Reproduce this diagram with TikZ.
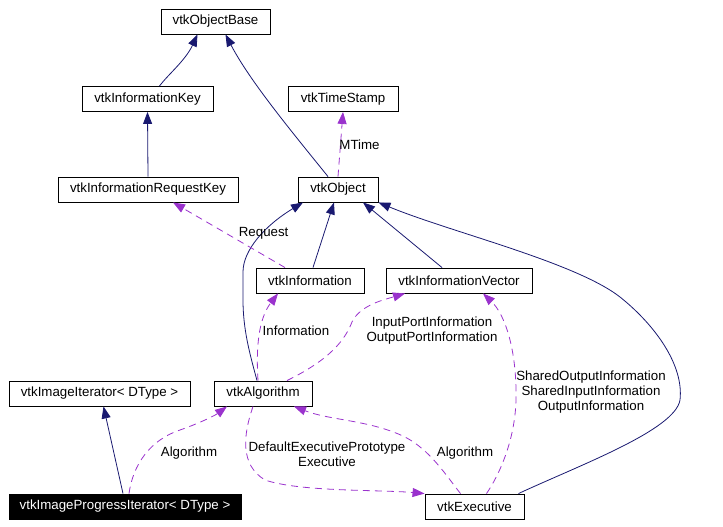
\documentclass[tikz,border=0pt]{standalone}
\usepackage{fontspec}
\setmainfont{Liberation Sans}
\usetikzlibrary{arrows.meta}
\usetikzlibrary{positioning}
\definecolor{inhblue}{HTML}{191970}
\definecolor{usepurple}{HTML}{9A32CD}

\begin{document}
\begin{tikzpicture}[x=1pt, y=-1pt,
  cls/.style={draw, rectangle, line width=0.9pt, minimum height=25, inner sep=0pt, font=\fontsize{13.3}{15}\selectfont},
  inh/.style={draw=inhblue, line width=0.8pt, -{Triangle[length=12pt,width=9pt]}},
  use/.style={draw=usepurple, line width=0.8pt, dash pattern=on 7pt off 5pt, -{Triangle[length=12pt,width=9pt]}},
  lbl/.style={align=center, inner sep=0pt, font=\fontsize{13.3}{15}\selectfont}]
  \path[use as bounding box] (0, 0) rectangle (723, 527);

  % classes
  \node[cls, minimum width=109] (base)    at (215.5, 21.5)  {vtkObjectBase};
  \node[cls, minimum width=131] (key)     at (147.5, 99)    {vtkInformationKey};
  \node[cls, minimum width=110] (stamp)   at (343, 99)      {vtkTimeStamp};
  \node[cls, minimum width=180] (reqkey)  at (148, 189.5)   {vtkInformationRequestKey};
  \node[cls, minimum width=80]  (obj)     at (338, 189.5)   {vtkObject};
  \node[cls, minimum width=108] (info)    at (310, 280.5)   {vtkInformation};
  \node[cls, minimum width=146] (infovec) at (459, 280.5)   {vtkInformationVector};
  \node[cls, minimum width=181] (imgit)   at (99.5, 393.5)  {vtkImageIterator< DType >};
  \node[cls, minimum width=98]  (algo)    at (263, 393.5)   {vtkAlgorithm};
  \node[cls, minimum width=232, fill=black, text=white] (imgprog) at (125, 506.5) {vtkImageProgressIterator< DType >};
  \node[cls, minimum width=99]  (exec)    at (474.5, 506.5) {vtkExecutive};

  % inheritance
  \draw[inh] ([xshift=12]key.north) .. controls +(8,-11) and +(-12,26) .. ([xshift=-18]base.south);
  \draw[inh] ([xshift=-10]obj.north) .. controls +(-38,-47) and +(24,46) .. ([xshift=10]base.south);
  \draw[inh] (reqkey.north) -- (key.south);
  \draw[inh] ([xshift=-6]algo.north) .. controls +(-7,-26) and +(0,30) .. (243, 300)
    -- (243, 272) .. controls +(0,-22) and +(-38,23) .. ([xshift=-35]obj.south);
  \draw[inh] ([xshift=3]info.north) -- ([xshift=-4]obj.south);
  \draw[inh] ([xshift=-17]infovec.north) -- ([xshift=25]obj.south);
  \draw[inh] ([xshift=44]exec.north) .. controls (580, 465) and (675, 430) .. (680, 400)
    .. controls (684, 365) and (655, 325) .. (620, 297)
    .. controls (575, 262) and (450, 232) .. (obj.south east);
  \draw[inh] ([xshift=-2]imgprog.north) -- ([xshift=4]imgit.south);

  % usage
  \draw[use] (obj.north) -- node[lbl, xshift=19] {MTime} (stamp.south);
  \draw[use] ([xshift=-25]info.north) -- node[lbl, pos=0.53, xshift=38] {Request} ([xshift=25]reqkey.south);
  \draw[use] ([xshift=-5]algo.north) .. controls +(-2,-31) and +(-20,26) .. ([xshift=-32]info.south);
  \draw[use] ([xshift=24]algo.north) .. controls +(43,-21) and +(-7,18) .. (352, 322)
    .. controls +(8,-17) and +(-20,6) .. ([xshift=-54]infovec.south);
  \draw[use] ([xshift=12]exec.north) .. controls +(13,-19) and +(-1,40) .. (516, 400)
    .. controls +(1,-50) and +(22,21) .. ([xshift=24]infovec.south);
  \draw[use] ([xshift=-14]exec.north) .. controls +(-15,-19) and +(25,13) .. (405, 437)
    .. controls +(-35,-17) and +(36,14) .. ([xshift=31]algo.south);
  \draw[use] ([xshift=-10]algo.south) .. controls +(-10,29) and +(-25,-15) .. (265, 480)
    .. controls +(35,12) and +(-45,-4) .. (exec.north west);
  \draw[use] ([xshift=4]imgprog.north) .. controls +(4,-29) and +(-30,10) .. (180, 430)
    .. controls +(20,-7) and +(-12,9) .. ([xshift=-36]algo.south);

  % labels
  \node[lbl] (lblinfo)    at (296, 331) {Information};
  \node[lbl] (lblport)    at (432, 331) {InputPortInformation\\OutputPortInformation};
  \node[lbl] (lblshared)  at (591, 392) {SharedOutputInformation\\SharedInputInformation\\OutputInformation};
  \node[lbl] (lbldefault) at (327, 454) {DefaultExecutivePrototype\\Executive};
  \node[lbl] (lblalgoex)  at (465, 453) {Algorithm};
  \node[lbl] (lblalgoit)  at (189, 453) {Algorithm};
\end{tikzpicture}
\end{document}
